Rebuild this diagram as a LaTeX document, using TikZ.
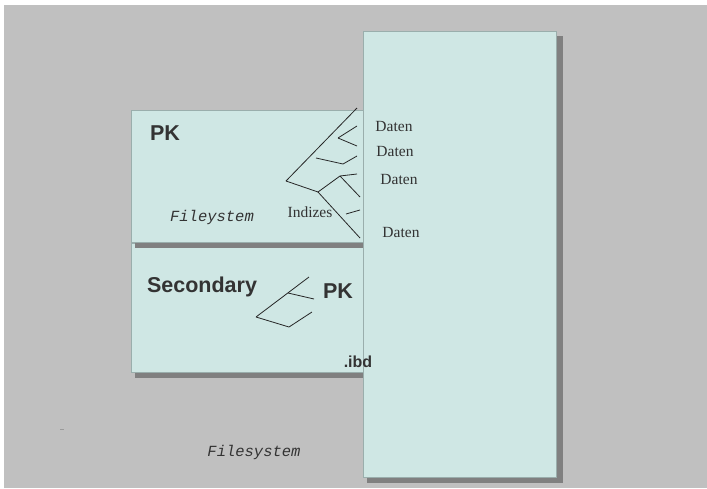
\documentclass[tikz,border=0pt]{standalone}
\usepackage{fontspec}
\setmainfont{Liberation Serif}
\setsansfont{Liberation Sans}
\setmonofont{Liberation Mono}
\definecolor{bggrey}{HTML}{C0C0C0}
\definecolor{boxfill}{HTML}{CFE7E4}
\definecolor{boxline}{HTML}{9AAEAC}
\definecolor{shadowc}{HTML}{808080}
\definecolor{txt}{HTML}{333333}
\tikzset{
  panel/.style={fill=boxfill, draw=boxline, line width=0.8pt},
  shade/.style={fill=shadowc, draw=none},
  bigsans/.style={font=\sffamily\bfseries\fontsize{21.5}{24}\selectfont, text=txt, inner sep=0pt},
  smallsans/.style={font=\sffamily\bfseries\fontsize{16}{18}\selectfont, text=txt, inner sep=0pt},
  serif/.style={font=\rmfamily\fontsize{15.5}{18}\selectfont, text=txt, inner sep=0pt},
  mono/.style={font=\ttfamily\itshape\fontsize{15.5}{18}\selectfont, text=txt, inner sep=0pt},
  tree/.style={draw=black!85, line width=0.8pt}
}
\begin{document}
\begin{tikzpicture}[x=1pt,y=-1pt]
\useasboundingbox (0,0) rectangle (707,488);
\fill[white] (0,0) rectangle (707,488);
\fill[bggrey] (4,5) rectangle (707,488);
% lower box
\fill[shade] (135,372) rectangle (363,378);
\path[panel] (131,243) rectangle (363,372);
% upper box
\fill[shade] (135,242) rectangle (363,248);
\path[panel] (131,110) rectangle (363,242);
% big box
\fill[shade] (556,36) rectangle (563,483);
\fill[shade] (367,477) rectangle (563,483);
\path[panel] (363,31) rectangle (556,477);
% upper tree
\coordinate (a) at (286,181);
\coordinate (b) at (316,158);
\coordinate (c) at (338,138);
\coordinate (d) at (318,192);
\coordinate (e) at (340,176);
\draw[tree] (a) -- (357,108);
\draw[tree] (c) -- (357,126);
\draw[tree] (c) -- (357,146);
\draw[tree] (b) -- (343,164) -- (357,156);
\draw[tree] (a) -- (d) -- (e) -- (357,174);
\draw[tree] (e) -- (360,197);
\draw[tree] (d) -- (360,238);
\draw[tree] (346,214) -- (360,210);
% lower tree
\coordinate (f) at (256,317);
\coordinate (g) at (288,293);
\draw[tree] (309,277) -- (f);
\draw[tree] (g) -- (314,299);
\draw[tree] (f) -- (289,327) -- (312,312);
% texts
\node[bigsans] (pk1) at (165,133) {PK};
\node[mono] (fs1) at (212,217) {Fileystem};
\node[serif] (idx) at (310,212) {Indizes};
\node[serif] (d1) at (394,126) {Daten};
\node[serif] (d2) at (395,151) {Daten};
\node[serif] (d3) at (399,179) {Daten};
\node[serif] (d4) at (401,232) {Daten};
\node[bigsans] (sec) at (202,287) {Secondary};
\node[bigsans] (pk2) at (338,291) {PK};
\node[smallsans] (ibd) at (358,362) {.ibd};
\node[mono] (fs2) at (254,452) {Filesystem};
\draw[shadowc!80, line width=0.6pt] (60,429) -- (64,429);
\end{tikzpicture}
\end{document}
